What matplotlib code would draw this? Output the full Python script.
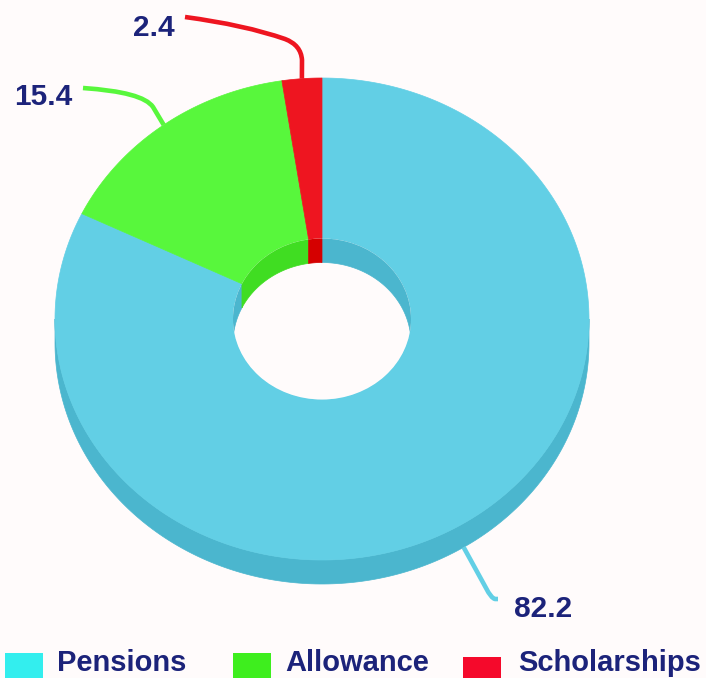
import numpy as np
import matplotlib.pyplot as plt
from matplotlib.patches import Polygon, Rectangle, Ellipse, PathPatch
from matplotlib.path import Path

categories = ['Pensions', 'Allowance', 'Scholarships']
values = [82.2, 15.4, 2.4]

top_colors = ['#62cfe5', '#58f73c', '#ee1520']
side_colors = ['#4bb6ce', '#40dd22', '#d50000']
legend_colors = ['#33eeee', '#3eee1e', '#f5092b']
text_color = '#1c237a'
bg = '#fffbfb'

# ellipse geometry in pixels
cx, cy = 322, 319
a_out, b_out = 267, 241
a_in, b_in = 89, 80.5
depth = 24


def ell(theta, a, b, dy=0):
    # theta in degrees, clockwise from 12 o'clock
    t = np.radians(theta)
    return np.column_stack([cx + a * np.sin(t), cy - b * np.cos(t) + dy])


def overlap(s, e, lo, hi):
    s2, e2 = max(s, lo), min(e, hi)
    return (s2, e2) if e2 > s2 else None


fig = plt.figure(figsize=(7.06, 6.78), dpi=100, facecolor=bg)
ax = fig.add_axes([0, 0, 1, 1])
ax.set_xlim(0, 706)
ax.set_ylim(678, 0)
ax.axis('off')
ax.set_facecolor(bg)

total = sum(values)
ends = np.cumsum(values) / total * 360
starts = np.concatenate([[0], ends[:-1]])

# outer wall, front half
for s, e, c in zip(starts, ends, side_colors):
    r = overlap(s, e, 90, 270)
    if r:
        th = np.linspace(r[0], r[1], 200)
        pts = np.vstack([ell(th, a_out, b_out), ell(th[::-1], a_out, b_out, depth)])
        ax.add_patch(Polygon(pts, closed=True, fc=c, ec=c, lw=0.5))

# top surface
for s, e, c in zip(starts, ends, top_colors):
    th = np.linspace(s, e, 400)
    pts = np.vstack([ell(th, a_out, b_out), ell(th[::-1], a_in, b_in)])
    ax.add_patch(Polygon(pts, closed=True, fc=c, ec=c, lw=0.5))

# hole and inner wall (back half)
hole = Ellipse((cx, cy), 2 * a_in, 2 * b_in, fc=bg, ec='none')
ax.add_patch(hole)
for s, e, c in zip(starts, ends, side_colors):
    for lo, hi in [(-90, 90), (270, 450)]:
        r = overlap(s, e, lo, hi)
        if r:
            th = np.linspace(r[0], r[1], 200)
            pts = np.vstack([ell(th, a_in, b_in), ell(th[::-1], a_in, b_in, depth)])
            p = Polygon(pts, closed=True, fc=c, ec=c, lw=0.5)
            ax.add_patch(p)
            p.set_clip_path(hole)

# data labels with connectors
mids = (starts + ends) / 2
bends = [
    ([(486, 588), (491, 598), (495, 599), (498, 599)],
     [Path.LINETO, Path.CURVE3, Path.CURVE3, Path.LINETO]),
    ([(153, 107), (143, 92), (83, 88)],
     [Path.LINETO, Path.CURVE3, Path.CURVE3]),
    ([(302, 60), (301, 45), (285, 39), (245, 25), (185, 17)],
     [Path.LINETO, Path.CURVE3, Path.CURVE3, Path.CURVE3, Path.CURVE3]),
]
label_pos = [(514, 617, 'left'), (72, 105, 'right'), (175, 36, 'right')]
for v, m, c, (bv, bc), (lx, ly, ha) in zip(values, mids, top_colors, bends, label_pos):
    dy = depth if np.cos(np.radians(m)) < 0 else 0
    p0 = ell(np.array([m]), a_out, b_out, dy)[0]
    verts = [tuple(p0)] + bv
    codes = [Path.MOVETO] + bc
    ax.add_patch(PathPatch(Path(verts, codes), fc='none', ec=c, lw=3.3,
                           capstyle='butt', joinstyle='round'))
    ax.text(lx, ly, f'{v:.1f}', ha=ha, va='baseline', color=text_color,
            fontsize=21.5, fontweight='bold', family='Liberation Sans')

# legend
sq_x = [5, 233, 463]
sq_y = [653, 653, 657]
txt_x = [57, 285, 518]
for name, c, x, y, tx in zip(categories, legend_colors, sq_x, sq_y, txt_x):
    ax.add_patch(Rectangle((x, y), 38, 30, fc=c, ec='none'))
    ax.text(tx, 671, name, ha='left', va='baseline', color=text_color,
            fontsize=21, fontweight='bold', family='Liberation Sans')

fig.savefig('out.png', dpi=100, facecolor=bg)
